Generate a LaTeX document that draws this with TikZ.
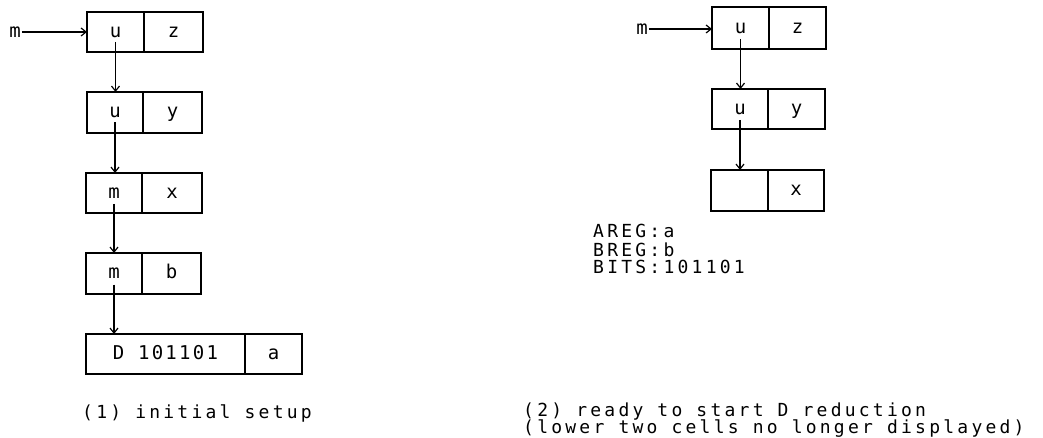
\documentclass[tikz,border=0pt]{standalone}
\usepackage{fontspec}
\usetikzlibrary{arrows.meta,calc}
\newfontfamily\plotmono{DejaVu Sans Mono}
\newfontfamily\plotwide[LetterSpace=18]{DejaVu Sans Mono}
\newfontfamily\plotcell[LetterSpace=12]{DejaVu Sans Mono}
\begin{document}
\begin{tikzpicture}[x=1pt,y=-1pt,
  cell/.style={draw, line width=1.4pt, inner sep=0pt, outer sep=0pt,
    minimum height=40pt, text height=10.5pt, text depth=0pt,
    font=\fontsize{19}{19}\plotmono},
  lbl/.style={inner sep=1pt, font=\fontsize{19}{19}\plotmono},
  txt/.style={inner sep=0pt, anchor=base west, font=\fontsize{18}{18}\plotwide},
  arr/.style={line width=1.2pt, -{Straight Barb[length=5pt,width=8pt]}}]
\useasboundingbox (0,0) rectangle (1043,438);

% ---- left panel ----
\node[lbl] (lm) at (15,32) {m};
\node[cell, minimum width=57pt, minimum height=40pt, anchor=north west] (l1a) at (87,12) {u};
\node[cell, minimum width=59pt, minimum height=40pt, anchor=west] (l1b) at (l1a.east) {z};
\node[cell, minimum width=56pt, minimum height=41pt, anchor=north west] (l2a) at (87,92) {u};
\node[cell, minimum width=59pt, minimum height=41pt, anchor=west] (l2b) at (l2a.east) {y};
\node[cell, minimum width=56pt, minimum height=40pt, anchor=north west] (l3a) at (86,173) {m};
\node[cell, minimum width=60pt, minimum height=40pt, anchor=west] (l3b) at (l3a.east) {x};
\node[cell, minimum width=56pt, minimum height=41pt, anchor=north west] (l4a) at (86,253) {m};
\node[cell, minimum width=59pt, minimum height=41pt, anchor=west] (l4b) at (l4a.east) {b};
\node[cell, minimum width=159pt, minimum height=40pt, anchor=north west, font=\fontsize{19}{19}\plotcell] (l5a) at (86,334) {D 101101};
\node[cell, minimum width=57pt, minimum height=40pt, anchor=west] (l5b) at (l5a.east) {a};

\draw[arr] (lm.east) -- (lm.east -| l1a.west);
\draw[arr] ($(l1a.center)+(0,10)$) -- (l2a.north -| l1a.center);
\draw[arr] ($(l2a.center)+(0,10)$) -- (l3a.north -| l2a.center);
\draw[arr] ($(l3a.center)+(0,11)$) -- (l4a.north);
\draw[arr] ($(l4a.center)+(0,11)$) -- (l5a.north -| l4a.center);

\node[txt] (cap1) at (82,418) {(1) initial setup};

% ---- right panel ----
\node[lbl] (rm) at (642,29) {m};
\node[cell, minimum width=57pt, minimum height=42pt, anchor=north west] (r1a) at (712,7) {u};
\node[cell, minimum width=57pt, minimum height=42pt, anchor=west] (r1b) at (r1a.east) {z};
\node[cell, minimum width=56pt, minimum height=40pt, anchor=north west] (r2a) at (712,89) {u};
\node[cell, minimum width=57pt, minimum height=40pt, anchor=west] (r2b) at (r2a.east) {y};
\node[cell, minimum width=57pt, minimum height=41pt, anchor=north west] (r3a) at (711,170) {};
\node[cell, minimum width=56pt, minimum height=41pt, anchor=west] (r3b) at (r3a.east) {x};

\draw[arr] (rm.east) -- (rm.east -| r1a.west);
\draw[arr] ($(r1a.center)+(0,11)$) -- (r2a.north -| r1a.center);
\draw[arr] ($(r2a.center)+(0,11)$) -- (r3a.north -| r2a.center);

\node[txt] (areg) at (593,238) {AREG:a};
\node[txt] (breg) at (593,256) {BREG:b};
\node[txt] (bits) at (593,273) {BITS:101101};

\node[txt] (cap2a) at (523,416) {(2) ready to start D reduction};
\node[txt] (cap2b) at (523,433) {(lower two cells no longer displayed)};
\end{tikzpicture}
\end{document}
